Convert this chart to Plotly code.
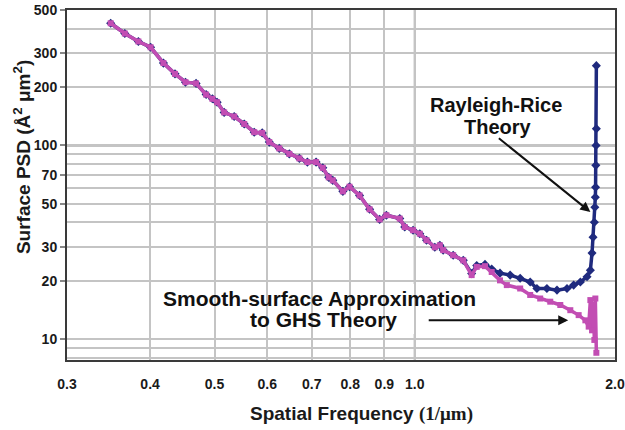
import math
import plotly.graph_objects as go

# ---- data ----
freq_common = [0.349, 0.3665, 0.3841, 0.4007, 0.4189, 0.4360, 0.4521, 0.4690, 0.4856, 0.4963,
               0.5045, 0.5169, 0.5352, 0.5541, 0.5736, 0.5897, 0.6043, 0.6256, 0.6477, 0.6706,
               0.6895, 0.7106, 0.7272, 0.7424, 0.7529, 0.7796, 0.7978, 0.8260, 0.8553, 0.8854,
               0.9064, 0.9493, 0.9658, 0.9941, 1.0175, 1.0415, 1.0719, 1.0907, 1.1033, 1.1422,
               1.1828]
psd_common = [427, 378, 344, 321, 266, 234, 212, 209, 183, 174,
              167, 148, 141, 129, 117, 116, 104, 96.5, 90.4, 85.7,
              82.0, 82.0, 76.6, 68.4, 66.0, 57.9, 61.2, 55.2, 46.8, 41.5,
              43.6, 41.9, 37.9, 36.5, 35.0, 32.4, 29.8, 30.5, 28.8, 27.1,
              25.5]

freq_ghs_tail = [1.2176, 1.2392, 1.2752, 1.3051, 1.3432, 1.3752, 1.4403, 1.4912, 1.5437, 1.5984,
                 1.6549, 1.7134, 1.7635, 1.8051, 1.8258, 1.8365, 1.8472, 1.8550, 1.8621, 1.8684,
                 1.8750]
psd_ghs_tail = [21.4, 23.6, 23.8, 22.2, 20.1, 19.0, 18.25, 16.9, 16.2, 15.6,
                15.0, 14.1, 13.3, 12.5, 11.6, 15.9, 11.1, 15.0, 9.9, 16.2,
                8.5]

freq_rr_tail = [1.2176, 1.2392, 1.2752, 1.3051, 1.3432, 1.3911, 1.4403, 1.4912, 1.5263, 1.5800,
                1.6361, 1.6938, 1.7333, 1.7741, 1.8155, 1.8365, 1.8472, 1.8535, 1.8621, 1.8652,
                1.8684, 1.8700, 1.8715, 1.8730, 1.8750, 1.8750]
psd_rr_tail = [21.8, 24.0, 24.3, 23.0, 21.9, 21.4, 20.6, 19.7, 18.25, 18.25,
               17.9, 18.25, 19.0, 19.7, 21.0, 22.7, 27.8, 33.6, 40.1, 47.9,
               54.0, 60.8, 78.9, 100, 122, 258]

x_tickvals = [0.3, 0.4, 0.5, 0.6, 0.7, 0.8, 0.9, 1.0, 2.0]
x_ticktext = ["0.3", "0.4", "0.5", "0.6", "0.7", "0.8", "0.9", "1.0", "2.0"]
y_tickvals = [10, 20, 30, 50, 70, 100, 200, 300, 500]
y_ticktext = ["10", "20", "30", "50", "70", "100", "200", "300", "500"]
y_minor_grid = [8, 9, 40, 60, 80, 90, 400]

freq_rr = freq_common + freq_rr_tail
psd_rr = psd_common + psd_rr_tail
freq_ghs = freq_common + freq_ghs_tail
psd_ghs = psd_common + psd_ghs_tail

BLUE = "#1F2A7E"
MAGENTA = "#C24DB3"
GRID = "#c4c4c4"
DARKGRID = "#8a8a8a"
FONT = "Liberation Sans"

fig = go.Figure()
fig.add_trace(go.Scatter(x=freq_rr, y=psd_rr, mode="lines+markers",
                         line=dict(color=BLUE, width=3.5),
                         marker=dict(symbol="diamond", size=7, color=BLUE),
                         showlegend=False))
fig.add_trace(go.Scatter(x=freq_ghs, y=psd_ghs, mode="lines+markers",
                         line=dict(color=MAGENTA, width=3.5),
                         marker=dict(symbol="square", size=6, color=MAGENTA),
                         showlegend=False))

fig.update_layout(
    width=625, height=430,
    margin=dict(l=67, r=10, t=10, b=70),
    paper_bgcolor="white", plot_bgcolor="white",
    font=dict(family=FONT, color="#1a1a1a"),
)

fig.update_xaxes(
    type="log", range=[math.log10(0.3), math.log10(2.0)], automargin=False,
    tickmode="array", tickvals=x_tickvals, ticktext=x_ticktext,
    tickfont=dict(family=FONT, size=14, weight="bold", color="#1a1a1a"),
    ticklabelstandoff=10,
    showgrid=True, gridcolor=GRID, gridwidth=2,
    zeroline=False, showline=True, linecolor="#3a3a3a", linewidth=2, mirror=True,
    ticks="",
)
fig.update_yaxes(
    type="log", range=[math.log10(7.8), math.log10(500)], automargin=False,
    tickmode="array", tickvals=y_tickvals, ticktext=y_ticktext,
    tickfont=dict(family=FONT, size=14, weight="bold", color="#1a1a1a"),
    ticks="outside", ticklen=5, tickcolor="#888888", tickwidth=1.5,
    showgrid=True, gridcolor=GRID, gridwidth=2,
    minor=dict(tickmode="array", tickvals=y_minor_grid, showgrid=True,
               gridcolor=GRID, gridwidth=2, ticks=""),
    zeroline=False, showline=True, linecolor="#3a3a3a", linewidth=2, mirror=True,
)

# darker reference grid lines and white text box
fig.add_shape(type="line", xref="x", yref="paper", x0=1.0, x1=1.0, y0=0, y1=1,
              line=dict(color=DARKGRID, width=2), layer="between")
for yv in (10, 100):
    fig.add_shape(type="line", xref="paper", yref="y", x0=0, x1=1, y0=yv, y1=yv,
                  line=dict(color=DARKGRID, width=2), layer="between")
fig.add_shape(type="rect", xref="paper", yref="paper", x0=0.155, x1=0.754, y0=0.074, y1=0.217,
              fillcolor="white", line=dict(width=0), layer="between")

afont = dict(family=FONT, size=20, weight="bold", color="#111111")
big = dict(family=FONT, size=21, weight="bold", color="#111111")
fig.add_annotation(text="Rayleigh-Rice", xref="paper", yref="paper", x=0.7828, y=0.7286,
                   xanchor="center", yanchor="middle", showarrow=False, font=afont)
fig.add_annotation(text="Theory", xref="paper", yref="paper", x=0.7865, y=0.6657,
                   xanchor="center", yanchor="middle", showarrow=False, font=afont)
fig.add_annotation(text="", xref="x", yref="y", x=math.log10(1.8365), y=math.log10(45.3),
                   ax=-93, ay=-75, showarrow=True, arrowhead=2, arrowsize=1, arrowwidth=2,
                   arrowcolor="#111111")
fig.add_annotation(text="Smooth-surface Approximation", xref="paper", yref="paper",
                   x=0.4599, y=0.1743, xanchor="center", yanchor="middle",
                   showarrow=False, font=big)
fig.add_annotation(text="to GHS Theory", xref="paper", yref="paper",
                   x=0.4672, y=0.1143, xanchor="center", yanchor="middle",
                   showarrow=False, font=big)
fig.add_annotation(text="", xref="x", yref="y", x=math.log10(1.701), y=math.log10(12.5),
                   ax=-141, ay=0, showarrow=True, arrowhead=2, arrowsize=1, arrowwidth=2,
                   arrowcolor="#111111")

# axis titles
tfont = dict(family=FONT, size=19, weight="bold", color="#1a1a1a")
fig.add_annotation(text="Spatial Frequency <span style='font-family:Liberation Serif'>(1/\u03bcm)</span>",
                   xref="paper", yref="paper", x=0.538, y=-0.154,
                   xanchor="center", yanchor="middle", showarrow=False, font=tfont)
fig.add_annotation(text="Surface PSD (\u00c5<sup>2</sup> \u03bcm<sup>2</sup>)",
                   xref="paper", yref="paper", x=-0.082, y=0.58, textangle=-90,
                   xanchor="center", yanchor="middle", showarrow=False, font=tfont)

fig.write_html("out.html")
